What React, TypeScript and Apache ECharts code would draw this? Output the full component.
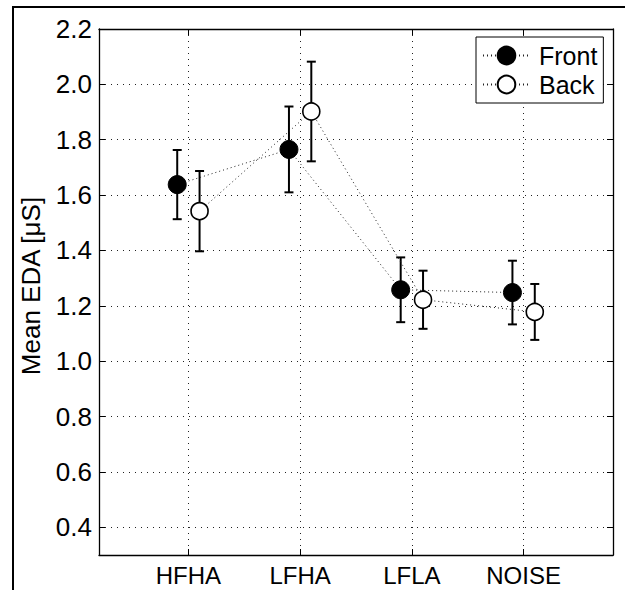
import React, { useEffect, useRef } from "react";
import * as echarts from "echarts";

const categories = ["HFHA", "LFHA", "LFLA", "NOISE"];
const frontMean = [1.638, 1.765, 1.258, 1.248];
const frontErr = [0.125, 0.155, 0.117, 0.115];
const backMean = [1.542, 1.902, 1.222, 1.178];
const backErr = [0.145, 0.18, 0.105, 0.101];
const yTicks = [0.4, 0.6, 0.8, 1.0, 1.2, 1.4, 1.6, 1.8, 2.0, 2.2];
const xTicks = [1, 2, 3, 4];
const offset = 0.1;

const FONT = "Liberation Sans, Arial, Helvetica, sans-serif";
const FS = 26;

export default function App() {
  const ref = useRef<HTMLDivElement>(null);
  useEffect(() => {
    if (!ref.current) return;
    const chart = echarts.init(ref.current, undefined, { renderer: "svg" });
    const frontPts = frontMean.map((v, i) => [xTicks[i] - offset, v]);
    const backPts = backMean.map((v, i) => [xTicks[i] + offset, v]);
    const frontBars = frontMean.map((v, i) => [xTicks[i] - offset, v - frontErr[i], v + frontErr[i]]);
    const backBars = backMean.map((v, i) => [xTicks[i] + offset, v - backErr[i], v + backErr[i]]);

    const renderErr = (params: any, api: any) => {
      const x = api.value(0);
      const lo = api.coord([x, api.value(1)]);
      const hi = api.coord([x, api.value(2)]);
      const hw = 4.5;
      const st = { stroke: "#000", lineWidth: 2 };
      return {
        type: "group",
        children: [
          { type: "line", shape: { x1: lo[0], y1: lo[1], x2: hi[0], y2: hi[1] }, style: st },
          { type: "line", shape: { x1: lo[0] - hw, y1: lo[1], x2: lo[0] + hw, y2: lo[1] }, style: st },
          { type: "line", shape: { x1: hi[0] - hw, y1: hi[1], x2: hi[0] + hw, y2: hi[1] }, style: st },
        ],
      };
    };

    const axisLine = { show: true, lineStyle: { color: "#000", width: 1.3 } };
    const gridLine = { show: true, lineStyle: { color: "#222", width: 1, type: [1, 5] as any } };

    chart.setOption({
      animation: false,
      backgroundColor: "#fff",
      grid: { left: 99, right: 12, top: 29, bottom: 35, containLabel: false },
      graphic: [
        {
          type: "rect",
          shape: { x: 13, y: 7, width: 640, height: 620 },
          style: { fill: "none", stroke: "#000", lineWidth: 2 },
          z: 100,
          silent: true,
        },
      ],
      legend: {
        orient: "vertical",
        left: 476,
        top: 37,
        padding: [6, 6, 6, 6],
        itemGap: 4,
        itemWidth: 47,
        itemHeight: 22,
        borderColor: "#000",
        borderWidth: 1,
        borderRadius: 0,
        backgroundColor: "#fff",
        data: ["Front", "Back"],
        textStyle: { fontFamily: FONT, fontSize: FS - 1, color: "#000", padding: [0, 0, 0, 4] },
      },
      xAxis: [
        {
          type: "value",
          min: 0.2,
          max: 4.8,
          position: "bottom",
          axisLine,
          axisTick: { show: true, inside: true, length: 6, customValues: xTicks, lineStyle: { color: "#000" } },
          axisLabel: {
            show: true,
            customValues: xTicks,
            margin: 8,
            fontFamily: FONT,
            fontSize: 24,
            lineHeight: 24,
            color: "#000",
            formatter: (v: number) => categories[Math.round(v) - 1] ?? "",
          },
          splitLine: gridLine,
        },
        {
          type: "value",
          min: 0.2,
          max: 4.8,
          position: "top",
          axisLine,
          axisTick: { show: true, inside: true, length: 6, customValues: xTicks, lineStyle: { color: "#000" } },
          axisLabel: { show: false },
          splitLine: { show: false },
        },
      ],
      yAxis: [
        {
          type: "value",
          min: 0.3,
          max: 2.2,
          position: "left",
          name: "Mean EDA [μS]",
          nameLocation: "middle",
          nameGap: 55,
          nameTextStyle: { fontFamily: FONT, fontSize: FS, color: "#000", padding: [0, 0, 0, 12] },
          axisLine,
          axisTick: { show: true, inside: true, length: 6, customValues: yTicks, lineStyle: { color: "#000" } },
          axisLabel: {
            show: true,
            customValues: yTicks,
            margin: 7,
            fontFamily: FONT,
            fontSize: FS,
            color: "#000",
            formatter: (v: number) => v.toFixed(1),
          },
          splitLine: gridLine,
        },
        {
          type: "value",
          min: 0.3,
          max: 2.2,
          position: "right",
          axisLine,
          axisTick: { show: true, inside: true, length: 6, customValues: yTicks, lineStyle: { color: "#000" } },
          axisLabel: { show: false },
          splitLine: { show: false },
        },
      ],
      series: [
        {
          type: "custom",
          renderItem: renderErr,
          data: frontBars,
          z: 3,
          silent: true,
        },
        {
          type: "custom",
          renderItem: renderErr,
          data: backBars,
          z: 3,
          silent: true,
        },
        {
          name: "Front",
          type: "line",
          data: frontPts,
          symbol: "circle",
          symbolSize: 18,
          itemStyle: { color: "#000", borderColor: "#000", borderWidth: 1 },
          lineStyle: { color: "#222", width: 1, type: [1, 3] },
          z: 4,
          silent: true,
        },
        {
          name: "Back",
          type: "line",
          data: backPts,
          symbol: "circle",
          symbolSize: 17,
          itemStyle: { color: "#fff", borderColor: "#000", borderWidth: 1.6 },
          lineStyle: { color: "#222", width: 1, type: [1, 3] },
          z: 4,
          silent: true,
        },
      ],
    });
    return () => chart.dispose();
  }, []);
  return (
    <div
      ref={ref}
      style={{ position: "fixed", left: 0, top: 0, width: 625, height: 590, background: "#fff" }}
    />
  );
}
